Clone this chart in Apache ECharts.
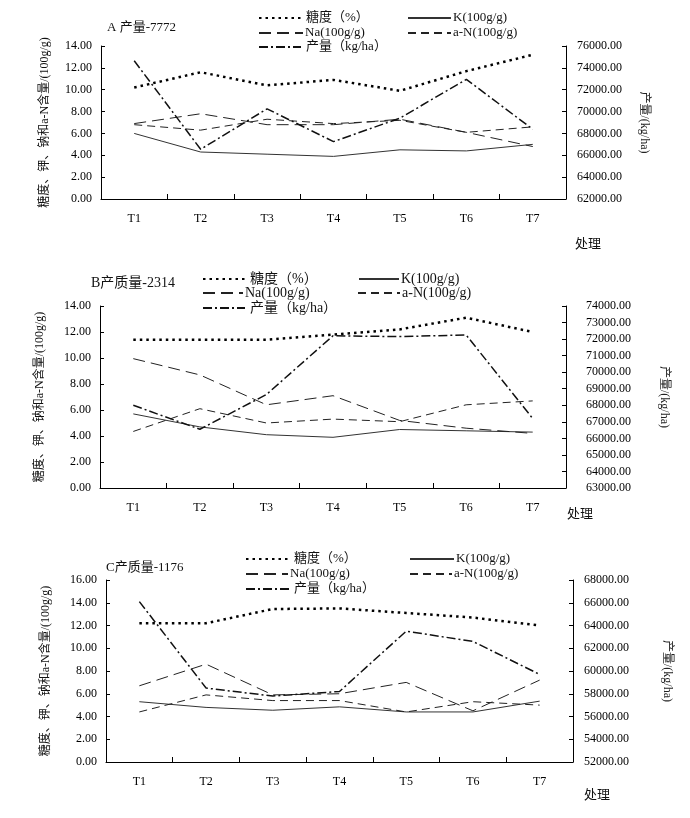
<!DOCTYPE html>
<html><head><meta charset="utf-8">
<script src="https://cdn.jsdelivr.net/npm/echarts@6/dist/echarts.min.js"></script>
<style>html,body{margin:0;padding:0;background:#fff}#c{width:690px;height:818px}</style>
</head><body><div id="c"></div>
<script>
// ---------- data ----------
const categories = ['T1','T2','T3','T4','T5','T6','T7'];
const seriesNames = ['糖度（%）','K(100g/g)','Na(100g/g)','a-N(100g/g)','产量（kg/ha）'];

// Panel A  产量-7772
const sugarA = [10.2, 11.6, 10.4, 10.9, 9.9, 11.7, 13.2];
const kA     = [6.0, 4.3, 4.1, 3.9, 4.5, 4.4, 5.0];
const naA    = [6.9, 7.8, 6.8, 6.8, 7.3, 6.1, 4.8];
const anA    = [6.8, 6.3, 7.3, 6.9, 7.2, 6.1, 6.6];
const yieldA = [74650, 66550, 70250, 67250, 69400, 72950, 68380];

// Panel B  产质量-2314
const sugarB = [11.4, 11.4, 11.4, 11.8, 12.2, 13.1, 12.0];
const kB     = [5.7, 4.7, 4.1, 3.9, 4.5, 4.4, 4.3];
const naB    = [9.95, 8.7, 6.4, 7.1, 5.2, 4.6, 4.2];
const anB    = [4.35, 6.1, 5.0, 5.3, 5.1, 6.4, 6.7];
const yieldB = [68000, 66550, 68650, 72200, 72150, 72250, 67200];

// Panel C  产质量-1176
const sugarC = [12.2, 12.2, 13.45, 13.5, 13.1, 12.7, 12.0];
const kC     = [5.3, 4.8, 4.55, 4.85, 4.4, 4.4, 5.35];
const naC    = [6.7, 8.6, 5.9, 6.0, 7.0, 4.5, 7.2];
const anC    = [4.4, 5.9, 5.4, 5.4, 4.4, 5.3, 5.0];
const yieldC = [66100, 58500, 57800, 58200, 63500, 62600, 59700];

// axis ranges
const leftMax = [14, 14, 16];
const rightMin = [62000, 63000, 52000];
const rightMax = [76000, 74000, 68000];
const rightInterval = [2000, 1000, 2000];
const titles = ['A 产量-7772', 'B产质量-2314', 'C产质量-1176'];

// ---------- styles ----------
const FONT = "'Liberation Serif','Noto Sans CJK SC',serif";
const lineStyles = [
  {color:'#000', width:2.5, type:[2.5,4]},
  {color:'#333', width:1, type:'solid'},
  {color:'#222', width:1, type:[12,6]},
  {color:'#222', width:1, type:[8,5]},
  {color:'#111', width:1.5, type:[9,3,2,3]}
];
const textGapAdj = [0, -3, -3, -3, 0];
const panels = [
  {data:[sugarA,kA,naA,anA,yieldA], grid:{left:101,right:124,top:46,height:153},
   leftGap:50, rightGap:72, rightMargin:11, title:{left:107,top:21,size:13},
   legend:{font:13, items:[[258,19,42],[407,19,43],[258,34,44],[407,34,43],[258,48,42]]},
   xname:[575,238]},
  {data:[sugarB,kB,naB,anB,yieldB], grid:{left:100,right:124,top:306,height:182},
   leftGap:54, rightGap:92, rightMargin:20, title:{left:91,top:276,size:14},
   legend:{font:14, items:[[202,280,42],[358,280,40],[202,294,40],[357,294,42],[202,309,42]]},
   xname:[567,508]},
  {data:[sugarC,kC,naC,anC,yieldC], grid:{left:106,right:117,top:580,height:182},
   leftGap:54, rightGap:88, rightMargin:11, title:{left:106,top:561,size:13},
   legend:{font:13, items:[[245,560,43],[409,560,44],[245,575,42],[409,575,42],[245,590,43]]},
   xname:[584,789]}
];

const option = {
  backgroundColor:'#fff',
  animation:false,
  textStyle:{fontFamily:FONT, color:'#000'},
  grid:[], xAxis:[], yAxis:[], series:[], legend:[], title:[], graphic:[]
};

panels.forEach((p, i) => {
  option.grid.push(Object.assign({outerBoundsMode:'none', containLabel:false}, p.grid));
  option.title.push({text:titles[i], left:p.title.left, top:p.title.top, padding:0,
    textStyle:{fontFamily:FONT, fontSize:p.title.size, fontWeight:'normal', color:'#111'}});
  option.xAxis.push({
    type:'category', gridIndex:i, data:categories, boundaryGap:true,
    axisLine:{show:true, lineStyle:{color:'#000', width:1}},
    axisTick:{show:true, inside:true, length:5, interval:0, lineStyle:{color:'#000'}},
    axisLabel:{margin:14, fontSize:12, fontFamily:FONT, color:'#000', interval:0},
    splitLine:{show:false}
  });
  option.yAxis.push({
    type:'value', gridIndex:i, position:'left', min:0, max:leftMax[i], interval:2,
    name:'糖度、钾、钠和a-N含量/(100g/g)', nameLocation:'middle', nameGap:p.leftGap, nameRotate:90,
    nameTextStyle:{fontFamily:FONT, fontSize:12, color:'#111'},
    axisLine:{show:true, lineStyle:{color:'#000', width:1}},
    axisTick:{show:true, inside:true, length:4, lineStyle:{color:'#000'}},
    axisLabel:{fontSize:12, fontFamily:FONT, color:'#000', margin:9, formatter:v=>v.toFixed(2)},
    splitLine:{show:false}
  });
  option.yAxis.push({
    type:'value', gridIndex:i, position:'right', min:rightMin[i], max:rightMax[i], interval:rightInterval[i],
    name:'产量/(kg/ha)', nameLocation:'middle', nameGap:p.rightGap, nameRotate:-90,
    nameTextStyle:{fontFamily:FONT, fontSize:12, color:'#222'},
    axisLine:{show:true, lineStyle:{color:'#000', width:1}},
    axisTick:{show:true, inside:true, length:4, lineStyle:{color:'#000'}},
    axisLabel:{fontSize:12, fontFamily:FONT, color:'#000', margin:p.rightMargin, formatter:v=>v.toFixed(2)},
    splitLine:{show:false}
  });
  p.data.forEach((arr, s) => {
    option.series.push({
      type:'line', name:seriesNames[s], xAxisIndex:i, yAxisIndex: s===4 ? 2*i+1 : 2*i,
      data:arr, symbol:'none', showSymbol:false, smooth:false,
      lineStyle:lineStyles[s], itemStyle:{color:lineStyles[s].color},
      z: s===0 ? 4 : 3
    });
  });
  p.legend.items.forEach((it, s) => {
    option.legend.push({
      data:[seriesNames[s]], left:it[0], top:it[1] - p.legend.font/2 - 1, padding:0,
      itemWidth:it[2], itemHeight:10, selectedMode:false,
      itemStyle:{opacity:0},
      textStyle:{fontFamily:FONT, fontSize:p.legend.font, color:'#111', padding:[0,0,0,textGapAdj[s]]}
    });
  });
  option.graphic.push({type:'text', left:p.xname[0], top:p.xname[1],
    style:{text:'处理', fontFamily:FONT, fontSize:13, fill:'#111'}});
});

const chart = echarts.init(document.getElementById('c'), null, {renderer:'canvas'});
chart.setOption(option);
</script>
</body></html>
